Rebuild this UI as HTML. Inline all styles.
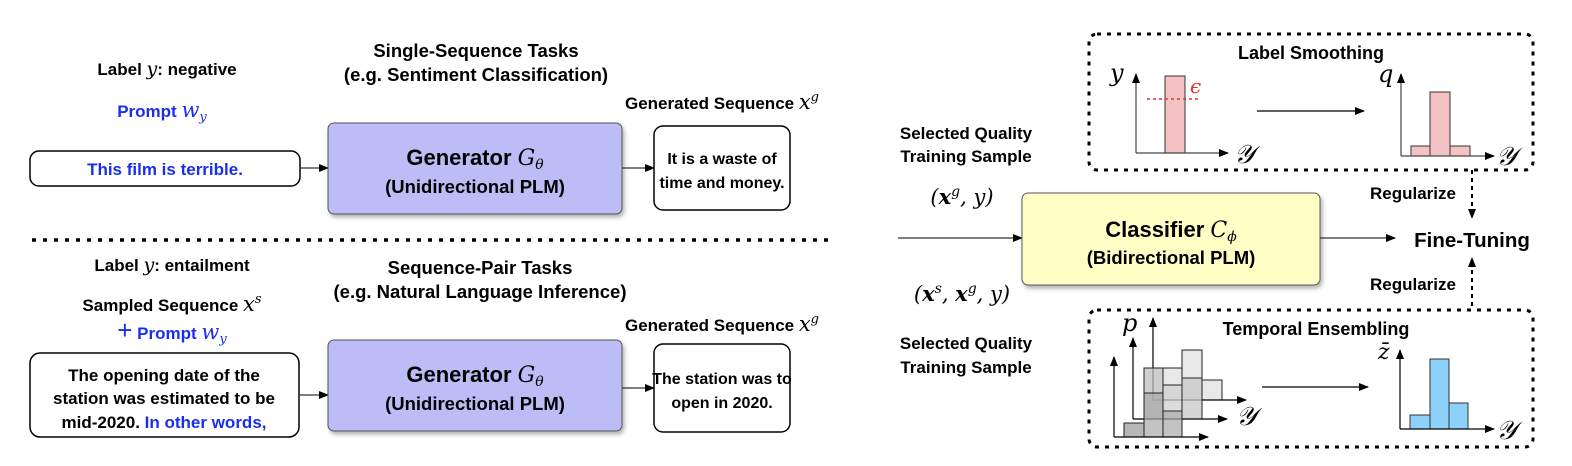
<!DOCTYPE html>
<html><head><meta charset="utf-8"><style>
html,body{margin:0;padding:0;background:#fff;}
svg{display:block;}
text{font-family:"Liberation Sans",sans-serif;font-weight:bold;fill:#000;}
.m{font-family:"DejaVu Serif","Liberation Serif",serif;font-style:italic;font-weight:normal;}
.b{fill:#1a2ef0;}
</style></head><body>
<svg width="1572" height="466" viewBox="0 0 1572 466" xmlns="http://www.w3.org/2000/svg">
<defs>
<marker id="a" markerWidth="10" markerHeight="8" refX="9" refY="4" orient="auto" markerUnits="userSpaceOnUse"><path d="M0,0 L10,4 L0,8 z" fill="#000"/></marker>
<filter id="sh" x="-5%" y="-5%" width="112%" height="120%"><feDropShadow dx="2" dy="3" stdDeviation="2" flood-color="#000" flood-opacity="0.3"/></filter>
</defs>

<text x="167" y="75" font-size="17" text-anchor="middle">Label <tspan class="m" font-size="19">y</tspan>: negative</text>
<text x="162" y="117" font-size="17" text-anchor="middle" class="b">Prompt <tspan class="m b" font-size="21" font-weight="bold">w</tspan><tspan class="m b" font-size="13" dy="4">y</tspan></text>
<rect x="30" y="151" width="270" height="35" rx="9" fill="#fff" stroke="#000" stroke-width="1.5"/>
<text x="165" y="175" font-size="17" text-anchor="middle" class="b">This film is terrible.</text>
<line x1="300" y1="168" x2="328" y2="168" stroke="#333" stroke-width="1.2" marker-end="url(#a)"/>
<text x="476" y="57" font-size="18.5" text-anchor="middle">Single-Sequence Tasks</text>
<text x="476" y="81" font-size="18.5" text-anchor="middle">(e.g. Sentiment Classification)</text>
<rect x="328" y="123" width="294" height="91" rx="6" fill="#bcbcf6" stroke="#555" stroke-width="1" filter="url(#sh)"/>
<text x="475" y="165" font-size="22" text-anchor="middle">Generator <tspan class="m" font-size="22">G</tspan><tspan class="m" font-size="14" dy="4">θ</tspan></text>
<text x="475" y="193" font-size="18.5" text-anchor="middle">(Unidirectional PLM)</text>
<line x1="622" y1="168" x2="654" y2="168" stroke="#333" stroke-width="1.2" marker-end="url(#a)"/>
<text x="722" y="109" font-size="17" text-anchor="middle">Generated Sequence <tspan class="m" font-size="21" font-weight="bold">x</tspan><tspan class="m" font-size="13" dy="-8">g</tspan></text>
<rect x="654" y="126" width="136" height="84" rx="9" fill="#fff" stroke="#000" stroke-width="1.5"/>
<text x="722" y="164" font-size="16" text-anchor="middle">It is a waste of</text>
<text x="722" y="188" font-size="16" text-anchor="middle">time and money.</text>

<line x1="32" y1="240" x2="835" y2="240" stroke="#000" stroke-width="3.5" stroke-dasharray="4,7"/>

<text x="172" y="271" font-size="17" text-anchor="middle">Label <tspan class="m" font-size="19">y</tspan>: entailment</text>
<text x="172" y="311" font-size="17" text-anchor="middle">Sampled Sequence <tspan class="m" font-size="21">x</tspan><tspan class="m" font-size="13" dy="-8">s</tspan></text>
<text x="172" y="339" font-size="17" text-anchor="middle" class="b"><tspan font-size="26" font-weight="normal">+</tspan> Prompt <tspan class="m b" font-size="21" font-weight="bold">w</tspan><tspan class="m b" font-size="13" dy="4">y</tspan></text>
<rect x="30" y="353" width="269" height="84" rx="10" fill="#fff" stroke="#000" stroke-width="1.5"/>
<text x="164" y="381" font-size="17" text-anchor="middle">The opening date of the</text>
<text x="164" y="404" font-size="17" text-anchor="middle">station was estimated to be</text>
<text x="164" y="428" font-size="17" text-anchor="middle">mid-2020. <tspan class="b">In other words,</tspan></text>
<line x1="299" y1="395" x2="328" y2="395" stroke="#333" stroke-width="1.2" marker-end="url(#a)"/>
<text x="480" y="274" font-size="18.5" text-anchor="middle">Sequence-Pair Tasks</text>
<text x="480" y="298" font-size="18.5" text-anchor="middle">(e.g. Natural Language Inference)</text>
<rect x="328" y="340" width="294" height="91" rx="6" fill="#bcbcf6" stroke="#555" stroke-width="1" filter="url(#sh)"/>
<text x="475" y="382" font-size="22" text-anchor="middle">Generator <tspan class="m" font-size="22">G</tspan><tspan class="m" font-size="14" dy="4">θ</tspan></text>
<text x="475" y="410" font-size="18.5" text-anchor="middle">(Unidirectional PLM)</text>
<line x1="622" y1="388" x2="654" y2="388" stroke="#333" stroke-width="1.2" marker-end="url(#a)"/>
<text x="722" y="331" font-size="17" text-anchor="middle">Generated Sequence <tspan class="m" font-size="21" font-weight="bold">x</tspan><tspan class="m" font-size="13" dy="-8">g</tspan></text>
<rect x="654" y="344" width="136" height="88" rx="9" fill="#fff" stroke="#000" stroke-width="1.5"/>
<text x="722" y="384" font-size="16" text-anchor="middle">The station was to</text>
<text x="722" y="408" font-size="16" text-anchor="middle">open in 2020.</text>

<text x="966" y="139" font-size="17" text-anchor="middle">Selected Quality</text>
<text x="966" y="162" font-size="17" text-anchor="middle">Training Sample</text>
<text x="962" y="204" font-size="21" text-anchor="middle" class="m" font-style="normal">(<tspan font-style="italic" font-weight="bold">x</tspan><tspan font-style="italic" font-size="14" dy="-8">g</tspan><tspan dy="8">, </tspan><tspan font-style="italic">y</tspan>)</text>
<line x1="898" y1="238" x2="1022" y2="238" stroke="#333" stroke-width="1.2" marker-end="url(#a)"/>
<text x="962" y="301" font-size="21" text-anchor="middle" class="m" font-style="normal">(<tspan font-style="italic" font-weight="bold">x</tspan><tspan font-style="italic" font-size="14" dy="-8">s</tspan><tspan dy="8">, </tspan><tspan font-style="italic" font-weight="bold">x</tspan><tspan font-style="italic" font-size="14" dy="-8">g</tspan><tspan dy="8">, </tspan><tspan font-style="italic">y</tspan>)</text>
<text x="966" y="349" font-size="17" text-anchor="middle">Selected Quality</text>
<text x="966" y="373" font-size="17" text-anchor="middle">Training Sample</text>

<rect x="1022" y="193" width="298" height="92" rx="6" fill="#ffffc6" stroke="#555" stroke-width="1" filter="url(#sh)"/>
<text x="1171" y="237" font-size="22" text-anchor="middle">Classifier <tspan class="m" font-size="22">C</tspan><tspan class="m" font-size="14" dy="4">ϕ</tspan></text>
<text x="1171" y="264" font-size="18.5" text-anchor="middle">(Bidirectional PLM)</text>
<line x1="1320" y1="238" x2="1395" y2="238" stroke="#333" stroke-width="1.2" marker-end="url(#a)"/>
<text x="1472" y="247" font-size="20.5" text-anchor="middle">Fine-Tuning</text>

<text x="1413" y="199" font-size="17" text-anchor="middle">Regularize</text>
<line x1="1472" y1="170" x2="1472" y2="218" stroke="#000" stroke-width="2" stroke-dasharray="4,4" marker-end="url(#a)"/>
<text x="1413" y="290" font-size="17" text-anchor="middle">Regularize</text>
<line x1="1472" y1="306" x2="1472" y2="258" stroke="#000" stroke-width="2" stroke-dasharray="4,4" marker-end="url(#a)"/>

<rect x="1089" y="34" width="444" height="136" rx="8" fill="none" stroke="#000" stroke-width="3" stroke-dasharray="4,6"/>
<text x="1311" y="59" font-size="18" text-anchor="middle">Label Smoothing</text>
<rect x="1165" y="76" width="20" height="77" fill="#f4c2c2" stroke="#333" stroke-width="1"/>
<line x1="1136" y1="153" x2="1136" y2="74" stroke="#444" stroke-width="1.2" marker-end="url(#a)"/>
<line x1="1136" y1="153" x2="1228" y2="153" stroke="#444" stroke-width="1.2" marker-end="url(#a)"/>
<line x1="1147" y1="99" x2="1200" y2="99" stroke="#e8322a" stroke-width="1.5" stroke-dasharray="3,3"/>
<text x="1190" y="93" font-size="20" class="m" style="fill:#e8322a">ϵ</text>
<text x="1110" y="81" font-size="24" class="m">y</text>
<text x="1234" y="163" font-size="26" class="m">𝒴</text>
<line x1="1257" y1="111" x2="1364" y2="111" stroke="#000" stroke-width="1.2" marker-end="url(#a)"/>
<rect x="1411" y="146" width="19" height="10" fill="#f4c2c2" stroke="#333" stroke-width="1"/>
<rect x="1430" y="92" width="20" height="64" fill="#f4c2c2" stroke="#333" stroke-width="1"/>
<rect x="1450" y="146" width="20" height="10" fill="#f4c2c2" stroke="#333" stroke-width="1"/>
<line x1="1401" y1="156" x2="1401" y2="74" stroke="#444" stroke-width="1.2" marker-end="url(#a)"/>
<line x1="1401" y1="156" x2="1494" y2="156" stroke="#444" stroke-width="1.2" marker-end="url(#a)"/>
<text x="1378" y="82" font-size="24" class="m">q</text>
<text x="1496" y="165" font-size="26" class="m">𝒴</text>

<rect x="1089" y="310" width="444" height="137" rx="8" fill="none" stroke="#000" stroke-width="3" stroke-dasharray="4,6"/>
<text x="1316" y="335" font-size="18" text-anchor="middle">Temporal Ensembling</text>
<g stroke="#222" stroke-width="1">
<rect x="1163" y="368" width="19" height="32" fill="#e8e8e8"/>
<rect x="1182" y="350" width="20" height="50" fill="#e8e8e8"/>
<rect x="1202" y="380" width="20" height="20" fill="#e8e8e8"/>
</g>
<line x1="1153" y1="400" x2="1153" y2="318" stroke="#000" stroke-width="1.2" marker-end="url(#a)"/>
<line x1="1153" y1="400" x2="1246" y2="400" stroke="#000" stroke-width="1.2" marker-end="url(#a)"/>
<g stroke="#222" stroke-width="1">
<rect x="1144" y="368" width="19" height="51" fill="#bdbdbd" fill-opacity="0.75"/>
<rect x="1163" y="385" width="19" height="34" fill="#d0d0d0" fill-opacity="0.75"/>
<rect x="1182" y="378" width="20" height="41" fill="#c8c8c8" fill-opacity="0.75"/>
</g>
<line x1="1133" y1="419" x2="1133" y2="338" stroke="#000" stroke-width="1.2" marker-end="url(#a)"/>
<line x1="1133" y1="419" x2="1227" y2="419" stroke="#000" stroke-width="1.2" marker-end="url(#a)"/>
<g stroke="#222" stroke-width="1">
<rect x="1124" y="423" width="20" height="14" fill="#aaaaaa" fill-opacity="0.85"/>
<rect x="1144" y="393" width="19" height="44" fill="#aaaaaa" fill-opacity="0.7"/>
<rect x="1163" y="411" width="19" height="26" fill="#aaaaaa" fill-opacity="0.7"/>
</g>
<line x1="1114" y1="437" x2="1114" y2="357" stroke="#000" stroke-width="1.2" marker-end="url(#a)"/>
<line x1="1114" y1="437" x2="1208" y2="437" stroke="#000" stroke-width="1.2" marker-end="url(#a)"/>
<text x="1122" y="331" font-size="24" class="m">p</text>
<text x="1236" y="425" font-size="26" class="m">𝒴</text>
<line x1="1262" y1="387" x2="1368" y2="387" stroke="#000" stroke-width="1.2" marker-end="url(#a)"/>
<rect x="1410" y="415" width="20" height="14" fill="#8dd0fa" stroke="#333" stroke-width="1"/>
<rect x="1430" y="359" width="19" height="70" fill="#8dd0fa" stroke="#333" stroke-width="1"/>
<rect x="1449" y="403" width="19" height="26" fill="#8dd0fa" stroke="#333" stroke-width="1"/>
<line x1="1400" y1="429" x2="1400" y2="350" stroke="#000" stroke-width="1.2" marker-end="url(#a)"/>
<line x1="1400" y1="429" x2="1494" y2="429" stroke="#000" stroke-width="1.2" marker-end="url(#a)"/>
<text x="1378" y="359" font-size="22" class="m">z̄</text>
<text x="1496" y="439" font-size="26" class="m">𝒴</text>
</svg>
</body></html>
